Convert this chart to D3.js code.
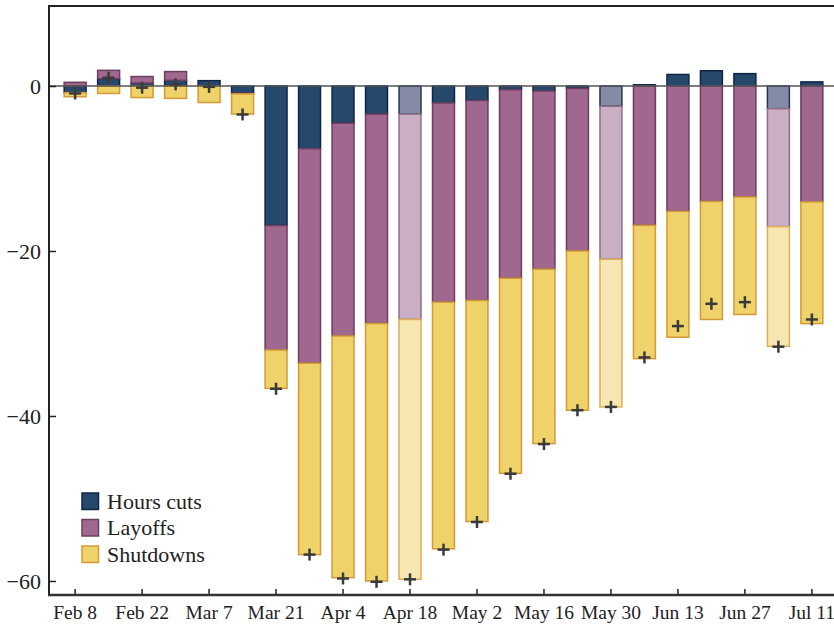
<!DOCTYPE html>
<html>
<head>
<meta charset="utf-8">
<script src="https://cdn.jsdelivr.net/npm/d3@7"></script>
<style>
  body { margin: 0; background: #fff; }
  svg { display: block; font-family: "Liberation Serif", "DejaVu Serif", serif; }
</style>
</head>
<body>
<div id="chart"></div>
<script>
/** weeks on the x axis */
var weeks = ["Feb 8", "Feb 15", "Feb 22", "Feb 29", "Mar 7", "Mar 14", "Mar 21", "Mar 28",
  "Apr 4", "Apr 11", "Apr 18", "Apr 25", "May 2", "May 9", "May 16", "May 23", "May 30",
  "Jun 6", "Jun 13", "Jun 20", "Jun 27", "Jul 4", "Jul 11"];

/** weeks drawn in lighter colours */
var lightWeeks = ["Apr 18", "May 30", "Jul 4"];

/** series values */
var hoursCuts = [-0.8, 0.9, 0.35, 0.7, 0.65, -0.85, -16.9, -7.6, -4.5, -3.4, -3.4, -2.05,
  -1.75, -0.45, -0.6, -0.3, -2.45, 0.15, 1.4, 1.85, 1.5, -2.75, 0.5];
var layoffs = [0.45, 1.0, 0.8, 1.05, 0, -0.1, -15.1, -26.0, -25.8, -25.4, -24.9, -24.15,
  -24.25, -22.85, -21.6, -19.7, -18.55, -16.9, -15.2, -14.0, -13.45, -14.3, -14.05];
var shutdowns = [-0.5, -0.9, -1.4, -1.5, -2.0, -2.45, -4.65, -23.2, -29.3, -31.2, -31.5, -29.9,
  -26.8, -23.65, -21.15, -19.3, -17.9, -16.15, -15.25, -14.3, -14.25, -14.5, -14.75];
var netChange = [-0.9, 1.0, -0.2, 0.2, -0.1, -3.45, -36.7, -56.8, -59.7, -60.1, -59.8, -56.2,
  -52.85, -47.0, -43.4, -39.3, -38.9, -32.9, -29.1, -26.4, -26.2, -31.6, -28.3];

var yTicks = [0, -20, -40, -60];
var seriesNames = ["Hours cuts", "Layoffs", "Shutdowns"];

/** size of the page and plot */
var width = 834, height = 625;
var plotLeft = 49, plotRight = 838, plotTop = 6, plotBottom = 595;

var svg = d3.select("#chart")
  .append("svg")
    .attr("width", width)
    .attr("height", height);

/** colours: normal and light */
var fills = {hours: "#26486b", layoffs: "#a0688f", shutdowns: "#f0d26a"};
var strokes = {hours: "#0f2548", layoffs: "#6c3e60", shutdowns: "#d39a36"};
var lightFills = {hours: "#858ba5", layoffs: "#c9aec4", shutdowns: "#f6e6b0"};
var lightStrokes = {hours: "#22375c", layoffs: "#8f6f87", shutdowns: "#e2ad52"};

/** build rows for the stack */
var rows = weeks.map(function(w, i) {
  return {week: w, hours: hoursCuts[i], layoffs: layoffs[i], shutdowns: shutdowns[i], net: netChange[i]};
});

var keys = ["hours", "layoffs", "shutdowns"];
var stacked = d3.stack()
  .keys(keys)
  .offset(d3.stackOffsetDiverging)(rows);

/** scales */
var x = d3.scaleBand()
  .domain(weeks)
  .range([plotLeft, plotRight])
  .paddingInner(0.3)
  .paddingOuter(0.43);

var y = d3.scaleLinear()
  .domain([-61.7, 9.7])
  .range([plotBottom, plotTop]);

/** bars */
svg.append("g")
  .selectAll("g")
  .data(stacked)
  .join("g")
  .each(function(s) {
    d3.select(this).selectAll("rect")
      .data(s)
      .join("rect")
        .attr("x", function(d) { return x(d.data.week) + 0.75; })
        .attr("width", x.bandwidth() - 1.5)
        .attr("y", function(d) { return y(Math.max(d[0], d[1])); })
        .attr("height", function(d) { return Math.abs(y(d[0]) - y(d[1])); })
        .attr("fill", function(d) {
          return lightWeeks.indexOf(d.data.week) >= 0 ? lightFills[s.key] : fills[s.key];
        })
        .attr("stroke", function(d) {
          return lightWeeks.indexOf(d.data.week) >= 0 ? lightStrokes[s.key] : strokes[s.key];
        })
        .attr("stroke-width", 1.5);
  });

/** zero line */
svg.append("line")
  .attr("x1", plotLeft).attr("x2", plotRight)
  .attr("y1", y(0)).attr("y2", y(0))
  .attr("stroke", "#555")
  .attr("stroke-width", 1.5);

/** net change markers */
var plus = svg.append("g")
  .selectAll("g")
  .data(rows)
  .join("g")
    .attr("transform", function(d) {
      return "translate(" + (x(d.week) + x.bandwidth() / 2) + "," + y(d.net) + ")";
    });
plus.append("line")
  .attr("x1", -6).attr("x2", 6).attr("y1", 0).attr("y2", 0)
  .attr("stroke", "#3a3a3a").attr("stroke-width", 2.5);
plus.append("line")
  .attr("x1", 0).attr("x2", 0).attr("y1", -6).attr("y2", 6)
  .attr("stroke", "#3a3a3a").attr("stroke-width", 2.5);

/** frame: top line */
svg.append("line")
  .attr("x1", plotLeft).attr("x2", plotRight)
  .attr("y1", plotTop).attr("y2", plotTop)
  .attr("stroke", "#222").attr("stroke-width", 2);

/** y axis */
var yAxis = svg.append("g")
  .attr("transform", "translate(" + plotLeft + ",0)")
  .call(d3.axisRight(y).tickValues(yTicks).tickSize(7).tickFormat(d3.format("d")));
yAxis.select(".domain").remove();
yAxis.selectAll("line").attr("stroke", "#222").attr("stroke-width", 1.5);
yAxis.selectAll("text")
  .attr("x", -8)
  .attr("text-anchor", "end")
  .attr("dy", "0.33em")
  .attr("fill", "#222")
  .style("font-size", "22px")
  .style("font-family", "Liberation Serif, serif");
svg.append("line")
  .attr("x1", plotLeft).attr("x2", plotLeft)
  .attr("y1", plotTop - 1).attr("y2", plotBottom + 1)
  .attr("stroke", "#222").attr("stroke-width", 2);

/** x axis */
var xAxis = svg.append("g")
  .attr("transform", "translate(0," + plotBottom + ")")
  .call(d3.axisTop(x)
    .tickValues(weeks.filter(function(w, i) { return i % 2 === 0; }))
    .tickSize(6));
xAxis.select(".domain").remove();
xAxis.selectAll("line").attr("stroke", "#222").attr("stroke-width", 1.5);
xAxis.selectAll("text")
  .attr("y", 24)
  .attr("dy", 0)
  .attr("fill", "#222")
  .style("font-size", "19.5px")
  .style("font-family", "Liberation Serif, serif");
svg.append("line")
  .attr("x1", plotLeft - 1).attr("x2", plotRight)
  .attr("y1", plotBottom).attr("y2", plotBottom)
  .attr("stroke", "#333").attr("stroke-width", 2.5);

/** legend */
var legend = svg.append("g")
  .selectAll("g")
  .data(keys)
  .join("g")
    .attr("transform", function(d, i) { return "translate(82," + (493 + i * 26.5) + ")"; });
legend.append("rect")
  .attr("width", 16.5).attr("height", 16.5)
  .attr("fill", function(d) { return fills[d]; })
  .attr("stroke", function(d) { return strokes[d]; })
  .attr("stroke-width", 1.5);
legend.append("text")
  .attr("x", 25)
  .attr("y", 15.5)
  .attr("fill", "#222")
  .style("font-size", "22px")
  .text(function(d, i) { return seriesNames[i]; });
</script>
</body>
</html>
